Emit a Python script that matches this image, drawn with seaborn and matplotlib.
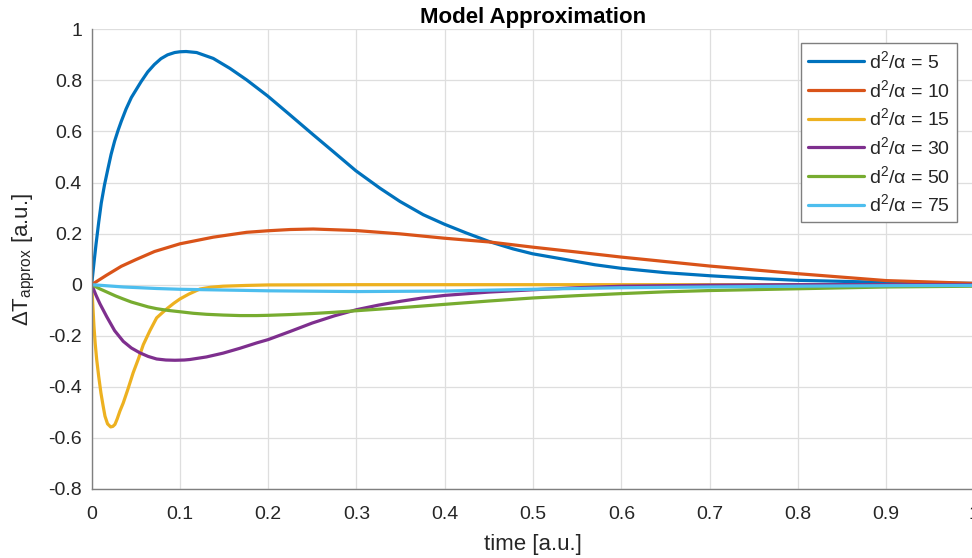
import pandas as pd
import matplotlib
matplotlib.use('Agg')
import matplotlib.pyplot as plt
import seaborn as sns
from matplotlib.ticker import FormatStrFormatter

# === DATA ===
t_5 = [0, 0.0026, 0.005, 0.008, 0.0109, 0.0145, 0.0185, 0.022, 0.026, 0.03, 0.0336, 0.039, 0.045,
       0.056, 0.0635, 0.071, 0.0785, 0.086, 0.094, 0.1, 0.107, 0.1189, 0.1377, 0.1566, 0.1755,
       0.1993, 0.2246, 0.251, 0.2737, 0.2993, 0.3265, 0.3492, 0.3756, 0.3994, 0.4247, 0.4511,
       0.4775, 0.4994, 0.5342, 0.57, 0.6, 0.65, 0.7, 0.75, 0.8, 0.9, 1.0]
y_5 = [0, 0.085, 0.16, 0.245, 0.32, 0.39, 0.455, 0.51, 0.562, 0.605, 0.64, 0.688, 0.733,
       0.795, 0.833, 0.862, 0.885, 0.900, 0.909, 0.912, 0.913, 0.909, 0.886, 0.847, 0.802,
       0.739, 0.665, 0.587, 0.521, 0.446, 0.378, 0.326, 0.274, 0.237, 0.202, 0.168,
       0.140, 0.121, 0.100, 0.078, 0.064, 0.047, 0.035, 0.025, 0.017, 0.009, 0.005]

t_10 = [0, 0.0168, 0.0336, 0.05, 0.0713, 0.1, 0.1377, 0.1755, 0.1993, 0.225, 0.251, 0.2993,
        0.3492, 0.3994, 0.4511, 0.4994, 0.5492, 0.6, 0.7, 0.8, 0.9, 1.0]
y_10 = [0, 0.037, 0.072, 0.098, 0.130, 0.160, 0.186, 0.205, 0.211, 0.216, 0.218, 0.212,
        0.199, 0.182, 0.167, 0.147, 0.128, 0.108, 0.073, 0.043, 0.016, 0.005]

t_15 = [0, 0.0013, 0.0026, 0.004, 0.0057, 0.008, 0.0105, 0.013, 0.0151, 0.018, 0.0215, 0.024,
        0.0264, 0.029, 0.032, 0.0358, 0.041, 0.047, 0.053, 0.0585, 0.066, 0.0736, 0.08, 0.0857,
        0.093, 0.1, 0.11, 0.1226, 0.135, 0.149, 0.175, 0.2, 0.3, 1.0]
y_15 = [0, -0.08, -0.163, -0.23, -0.293, -0.36, -0.424, -0.475, -0.515, -0.545, -0.557, -0.555,
        -0.547, -0.525, -0.495, -0.463, -0.41, -0.345, -0.29, -0.235, -0.18, -0.13, -0.11, -0.093,
        -0.073, -0.056, -0.037, -0.017, -0.01, -0.006, -0.003, -0.001, 0, 0]

t_30 = [0, 0.005, 0.0094, 0.017, 0.026, 0.0358, 0.045, 0.0547, 0.064, 0.0736, 0.084, 0.0944,
        0.105, 0.1113, 0.13, 0.149, 0.168, 0.187, 0.2, 0.225, 0.25, 0.275, 0.3, 0.325, 0.35,
        0.375, 0.4, 0.45, 0.5, 0.55, 0.6, 0.7, 0.8, 1.0]
y_30 = [0, -0.042, -0.075, -0.125, -0.18, -0.222, -0.248, -0.267, -0.281, -0.291, -0.295, -0.296,
        -0.295, -0.293, -0.283, -0.268, -0.249, -0.228, -0.215, -0.183, -0.150, -0.122, -0.098, -0.080, -0.065,
        -0.052, -0.042, -0.029, -0.02, -0.012, -0.006, -0.002, 0, 0]

t_50 = [0, 0.009, 0.018, 0.027, 0.0358, 0.045, 0.055, 0.064, 0.0736, 0.087, 0.1, 0.115, 0.13,
        0.149, 0.168, 0.187, 0.2, 0.225, 0.25, 0.275, 0.3, 0.35, 0.4, 0.45, 0.5, 0.55, 0.6,
        0.65, 0.7, 0.8, 0.9, 1.0]
y_50 = [0, -0.016, -0.03, -0.044, -0.056, -0.068, -0.078, -0.087, -0.094, -0.101, -0.106, -0.112, -0.116,
        -0.119, -0.121, -0.121, -0.12, -0.117, -0.113, -0.108, -0.102, -0.09, -0.077, -0.064, -0.052, -0.043, -0.035,
        -0.028, -0.023, -0.016, -0.009, -0.006]

t_75 = [0, 0.0358, 0.0736, 0.1, 0.15, 0.2, 0.3, 0.4, 0.5, 0.6, 0.7, 0.8, 0.9, 1.0]
y_75 = [0, -0.009, -0.015, -0.018, -0.021, -0.024, -0.027, -0.025, -0.018, -0.012, -0.009, -0.006, -0.004, -0.003]

ratios = ['5', '10', '15', '30', '50', '75']
series = [(t_5, y_5), (t_10, y_10), (t_15, y_15), (t_30, y_30), (t_50, y_50), (t_75, y_75)]
colors = ['#0072BD', '#D95319', '#EDB120', '#7E2F8E', '#77AC30', '#4DBEEE']

x_ticks = [0, 0.1, 0.2, 0.3, 0.4, 0.5, 0.6, 0.7, 0.8, 0.9, 1.0]
y_ticks = [-0.8, -0.6, -0.4, -0.2, 0, 0.2, 0.4, 0.6, 0.8, 1.0]

# === STYLE ===
sns.set_style('white')
plt.rcParams['font.family'] = ['Liberation Sans', 'DejaVu Sans']
plt.rcParams['mathtext.fontset'] = 'custom'
plt.rcParams['mathtext.rm'] = 'Liberation Sans'
plt.rcParams['mathtext.it'] = 'Liberation Sans:italic'
plt.rcParams['mathtext.bf'] = 'Liberation Sans:bold'
plt.rcParams['axes.unicode_minus'] = False

fig = plt.figure(figsize=(9.72, 5.58), dpi=100)
ax = fig.add_axes([0.0943, 0.1237, 0.9082, 0.8238])

for (t, y), r, c in zip(series, ratios, colors):
    df = pd.DataFrame({'time': t, 'dT': y})
    sns.lineplot(data=df, x='time', y='dT', ax=ax, color=c, lw=2.3,
                 estimator=None, sort=False, label=f'd$^2$/α = {r}')

ax.set_xlim(0, 1)
ax.set_ylim(-0.8, 1)
ax.set_xticks(x_ticks)
ax.set_yticks(y_ticks)
ax.xaxis.set_major_formatter(FormatStrFormatter('%g'))
ax.yaxis.set_major_formatter(FormatStrFormatter('%g'))
ax.grid(True, color='#dedede', lw=0.9)
ax.set_axisbelow(True)

for s in ['top', 'right']:
    ax.spines[s].set_visible(False)
for s in ['left', 'bottom']:
    ax.spines[s].set_color('#7f7f7f')
    ax.spines[s].set_linewidth(1.0)

ax.tick_params(axis='both', direction='in', length=4, color='#7f7f7f',
               labelcolor='#262626', labelsize=14)
ax.tick_params(axis='x', pad=12)
ax.tick_params(axis='y', pad=7)

ax.set_title('Model Approximation', fontsize=16, fontweight='bold', pad=4.5, color='#000000')
ax.set_xlabel('time [a.u.]', fontsize=16, color='#262626', labelpad=8)
ax.set_ylabel('ΔT$_{\\mathrm{approx}}$ [a.u.]', fontsize=16, color='#262626', labelpad=8)

leg = ax.legend(loc='upper right', bbox_to_anchor=(0.9843, 0.9224), bbox_transform=fig.transFigure,
                borderaxespad=0, fontsize=14, handlelength=2.9, handletextpad=0.25,
                labelspacing=0.35, borderpad=0.35, fancybox=False, framealpha=1, edgecolor='#7f7f7f')
leg.get_frame().set_linewidth(1.0)
for txt in leg.get_texts():
    txt.set_color('#262626')

fig.savefig('out.png', dpi=100)
